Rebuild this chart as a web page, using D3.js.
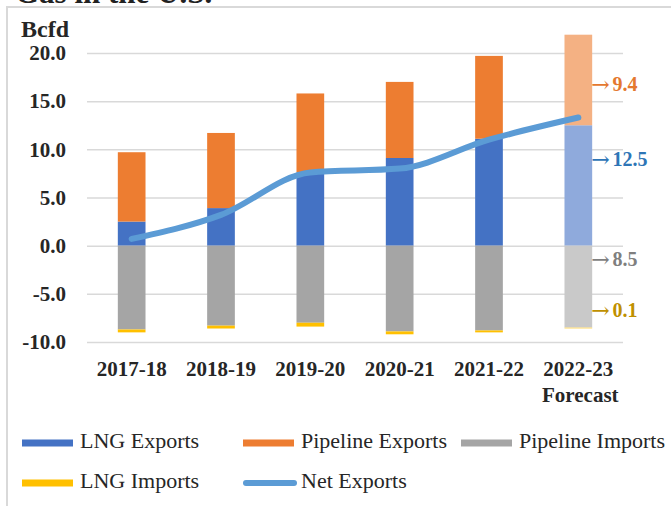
<!DOCTYPE html>
<html><head><meta charset="utf-8">
<script src="https://cdn.jsdelivr.net/npm/d3@7"></script>
<style>html,body{margin:0;padding:0;background:#fff;overflow:hidden}</style>
</head><body>
<svg id="c" width="671" height="506"></svg>
<script>
const categories = ["2017-18","2018-19","2019-20","2020-21","2021-22","2022-23"];
const lngExports = [2.5, 3.9, 7.6, 9.1, 11.1, 12.5];
const pipelineExports = [7.2, 7.8, 8.2, 7.9, 8.6, 9.4];
const pipelineImports = [8.7, 8.3, 8.0, 8.9, 8.8, 8.5];
const lngImports = [0.3, 0.3, 0.4, 0.3, 0.2, 0.1];
const netExports = [0.7, 3.2, 7.6, 8.0, 11.0, 13.3];
const yTicks = [-10, -5, 0, 5, 10, 15, 20];
const forecastIndex = 5;
const annotations = [
  {text: "9.4", at: 16.6, color: "#E4782F"},
  {text: "12.5", at: 8.8, color: "#2E75B6"},
  {text: "8.5", at: -1.6, color: "#7F7F7F"},
  {text: "0.1", at: -6.9, color: "#BF9000"}
];
const legendItems = [
  {name: "LNG Exports", color: "#4472C4", type: "bar"},
  {name: "Pipeline Exports", color: "#ED7D31", type: "bar"},
  {name: "Pipeline Imports", color: "#A5A5A5", type: "bar"},
  {name: "LNG Imports", color: "#FFC000", type: "bar"},
  {name: "Net Exports", color: "#5B9BD5", type: "line"}
];

const svg = d3.select("#c");
const serif = "'Liberation Serif','DejaVu Serif',serif";

// clipped title from above
svg.append("text").attr("x", 15).attr("y", 3).attr("font-family", serif)
  .attr("font-weight", "bold").attr("font-size", 31).attr("fill", "#222").text("Gas in the U.S.");

// frame
svg.append("rect").attr("x", 7).attr("y", 7).attr("width", 720).attr("height", 620)
  .attr("fill", "none").attr("stroke", "#D9D9D9").attr("stroke-width", 2);

const x = d3.scaleBand().domain(categories).range([87, 623]).paddingInner(0.69).paddingOuter(0.345);
const y = d3.scaleLinear().domain([-10, 20]).range([342, 53]);

// gridlines
const yAxis = d3.axisLeft(y).tickValues(yTicks).tickSize(-(623 - 87)).tickFormat(d => d.toFixed(1));
const ga = svg.append("g").attr("transform", "translate(87,0)").call(yAxis);
ga.select(".domain").remove();
ga.selectAll(".tick line").attr("stroke", "#D9D9D9").attr("stroke-width", 1.5);
ga.selectAll(".tick text").attr("x", -21).attr("font-family", serif).attr("font-weight", "bold")
  .attr("font-size", 21).attr("fill", "#262626");

svg.append("text").attr("x", 21).attr("y", 37).attr("font-family", serif).attr("font-weight", "bold")
  .attr("font-size", 24).attr("fill", "#262626").text("Bcfd");

const colors = {
  lngE: ["#4472C4", "#8FAADC"],
  pipE: ["#ED7D31", "#F4B183"],
  pipI: ["#A5A5A5", "#C9C9C9"],
  lngI: ["#FFC000", "#FFD966"]
};
const col = (k, i) => colors[k][i === forecastIndex ? 1 : 0];

const bars = svg.append("g");
categories.forEach((c, i) => {
  const segs = [
    {k: "lngE", y0: 0, y1: lngExports[i]},
    {k: "pipE", y0: lngExports[i], y1: lngExports[i] + pipelineExports[i]},
    {k: "pipI", y0: 0, y1: -pipelineImports[i]},
    {k: "lngI", y0: -pipelineImports[i], y1: -pipelineImports[i] - lngImports[i]}
  ];
  segs.forEach(s => {
    bars.append("rect").attr("x", x(c)).attr("width", x.bandwidth())
      .attr("y", y(Math.max(s.y0, s.y1))).attr("height", Math.abs(y(s.y0) - y(s.y1)))
      .attr("fill", col(s.k, i));
  });
});

// net exports line
const line = d3.line().x((d, i) => x(categories[i]) + x.bandwidth() / 2).y(d => y(d)).curve(d3.curveMonotoneX);
svg.append("path").datum(netExports).attr("d", line).attr("fill", "none")
  .attr("stroke", "#5B9BD5").attr("stroke-width", 6).attr("stroke-linecap", "round");

// category labels
const gx = svg.append("g");
categories.forEach(c => {
  gx.append("text").attr("x", x(c) + x.bandwidth() / 2).attr("y", 376).attr("text-anchor", "middle")
    .attr("font-family", serif).attr("font-weight", "bold").attr("font-size", 21).attr("fill", "#262626").text(c);
});
gx.append("text").attr("x", x(categories[forecastIndex]) + x.bandwidth() / 2 + 2).attr("y", 402)
  .attr("text-anchor", "middle").attr("font-family", serif).attr("font-weight", "bold")
  .attr("font-size", 21).attr("fill", "#262626").text("Forecast");

// annotations
annotations.forEach(a => {
  const t = svg.append("text").attr("x", x(categories[forecastIndex]) + x.bandwidth() - 1).attr("y", y(a.at))
    .attr("dominant-baseline", "middle").attr("font-family", serif).attr("font-weight", "bold")
    .attr("font-size", 20).attr("fill", a.color);
  t.append("tspan").attr("font-family", "'DejaVu Serif',serif").attr("font-weight", "normal")
    .attr("font-size", 22).text("\u2192");
  t.append("tspan").attr("dx", 3).text(a.text);
});

// legend
const legPos = [[22, 443], [243, 443], [461, 443], [22, 483], [243, 483]];
legendItems.forEach((l, i) => {
  const [lx, ly] = legPos[i];
  if (l.type === "bar") {
    svg.append("rect").attr("x", lx).attr("y", ly - 3.5).attr("width", 51).attr("height", 7).attr("fill", l.color);
  } else {
    svg.append("line").attr("x1", lx + 3).attr("x2", lx + 51).attr("y1", ly).attr("y2", ly)
      .attr("stroke", l.color).attr("stroke-width", 6).attr("stroke-linecap", "round");
  }
  svg.append("text").attr("x", lx + 58).attr("y", ly).attr("dominant-baseline", "middle")
    .attr("font-family", serif).attr("font-size", 22).attr("fill", "#262626").text(l.name);
});
</script>
</body></html>
